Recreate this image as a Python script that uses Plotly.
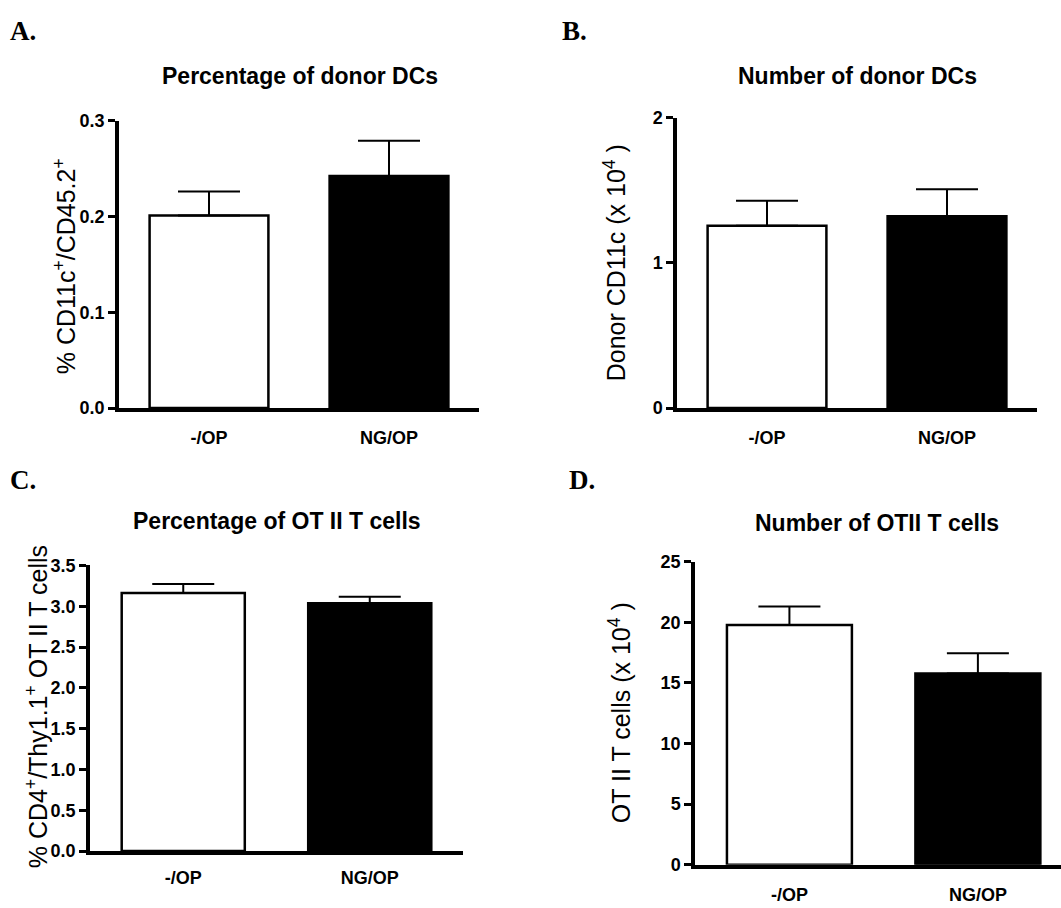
import plotly.graph_objects as go

W, H = 1061, 908

categories = ["-/OP", "NG/OP"]
bar_colors = ["white", "black"]

# Panel A: Percentage of donor DCs
a_means = [0.201, 0.242]
a_err = [0.025, 0.037]
# Panel B: Number of donor DCs (x 10^4)
b_means = [1.255, 1.32]
b_err = [0.173, 0.186]
# Panel C: Percentage of OT II T cells
c_means = [3.164, 3.036]
c_err = [0.108, 0.080]
# Panel D: Number of OTII T cells (x 10^4)
d_means = [19.76, 15.78]
d_err = [1.53, 1.67]

panel_titles = ["Percentage of donor DCs", "Number of donor DCs",
                "Percentage of OT II T cells", "Number of OTII T cells"]
panel_letters = ["A.", "B.", "C.", "D."]
y_titles = ["% CD11c<sup>+</sup>/CD45.2<sup>+</sup>",
            "Donor CD11c (x 10<sup>4</sup> )",
            "% CD4<sup>+</sup>/Thy1.1<sup>+</sup> OT II T cells",
            "OT II T cells (x 10<sup>4</sup> )"]

FONT = "Liberation Sans, Arial, sans-serif"
SERIF = "Liberation Serif, Times New Roman, serif"

# layout geometry in pixels: (x0, x1, ytop, ybottom)
boxes = [(119, 479, 113, 407), (677, 1037, 110, 407),
         (90, 463, 568, 860), (695, 1061, 564, 874)]
xranges = [[-0.5, 1.5], [-0.5, 1.5], [-0.5, 1.5], [-0.501, 1.441]]
bar_w = [0.66, 0.66, 0.66, 0.663]
yranges = [[0, 0.3], [0, 2], [0, 3.5], [0, 25]]
dticks = [0.1, 1, 0.5, 5]
tickfmts = [".1f", "d", ".1f", "d"]
xlabel_gap = [11, 11, 8, 11]
title_pos = [(300, 67), (857, 67), (277, 523), (877, 525)]
letter_pos = [(8, 21), (560, 21), (8, 481), (567, 481)]
ytitle_pos = [(65, 262), (615, 259), (37, 713), (620, 719)]

data = [(a_means, a_err), (b_means, b_err), (c_means, c_err), (d_means, d_err)]

fig = go.Figure()
layout = dict(width=W, height=H, margin=dict(l=0, r=0, t=0, b=0),
              paper_bgcolor="white", plot_bgcolor="white", showlegend=False,
              font=dict(family=FONT, color="black"))
annotations = []
for i, ((means, errs), (x0, x1, yt, yb)) in enumerate(zip(data, boxes)):
    n = "" if i == 0 else str(i + 1)
    fig.add_trace(go.Bar(
        x=categories, y=means, width=bar_w[i],
        marker=dict(color=bar_colors, line=dict(color="black", width=2.5)),
        error_y=dict(type="data", symmetric=False, array=errs,
                     arrayminus=[0] * len(errs), color="black",
                     thickness=2, width=31),
        xaxis="x" + n, yaxis="y" + n))
    layout["xaxis" + n] = dict(
        domain=[x0 / W, x1 / W], anchor="y" + n, range=xranges[i],
        showline=True, linecolor="black", linewidth=3.5,
        ticks="outside", ticklen=xlabel_gap[i], tickcolor="rgba(0,0,0,0)",
        showgrid=False, zeroline=False,
        tickfont=dict(family=FONT, size=18, color="black", weight="bold"))
    layout["yaxis" + n] = dict(
        domain=[1 - yb / H, 1 - yt / H], anchor="x" + n, range=yranges[i],
        dtick=dticks[i], tick0=0, tickformat=tickfmts[i],
        showline=True, linecolor="black", linewidth=3.5,
        ticks="outside", ticklen=7, tickwidth=3, tickcolor="black",
        showgrid=False, zeroline=False,
        tickfont=dict(family=FONT, size=18, color="black", weight="bold"))
    tx, ty = title_pos[i]
    annotations.append(dict(text=panel_titles[i], x=tx / W, y=1 - ty / H,
                            xref="paper", yref="paper", showarrow=False,
                            xanchor="center", yanchor="middle",
                            font=dict(family=FONT, size=23, color="black", weight="bold")))
    lx, ly = letter_pos[i]
    annotations.append(dict(text=panel_letters[i], x=lx / W, y=1 - ly / H,
                            xref="paper", yref="paper", showarrow=False,
                            xanchor="left", yanchor="middle",
                            font=dict(family=SERIF, size=27, color="black", weight="bold")))
    yx, yy = ytitle_pos[i]
    annotations.append(dict(text=y_titles[i], x=yx / W, y=1 - yy / H,
                            xref="paper", yref="paper", showarrow=False,
                            textangle=-90, xanchor="center", yanchor="middle",
                            font=dict(family=FONT, size=25, color="black")))
layout["annotations"] = annotations
fig.update_layout(**layout)
fig.write_html("out.html", config={"displayModeBar": False},
               post_script="document.body.style.margin='0';document.body.style.overflow='hidden';")
